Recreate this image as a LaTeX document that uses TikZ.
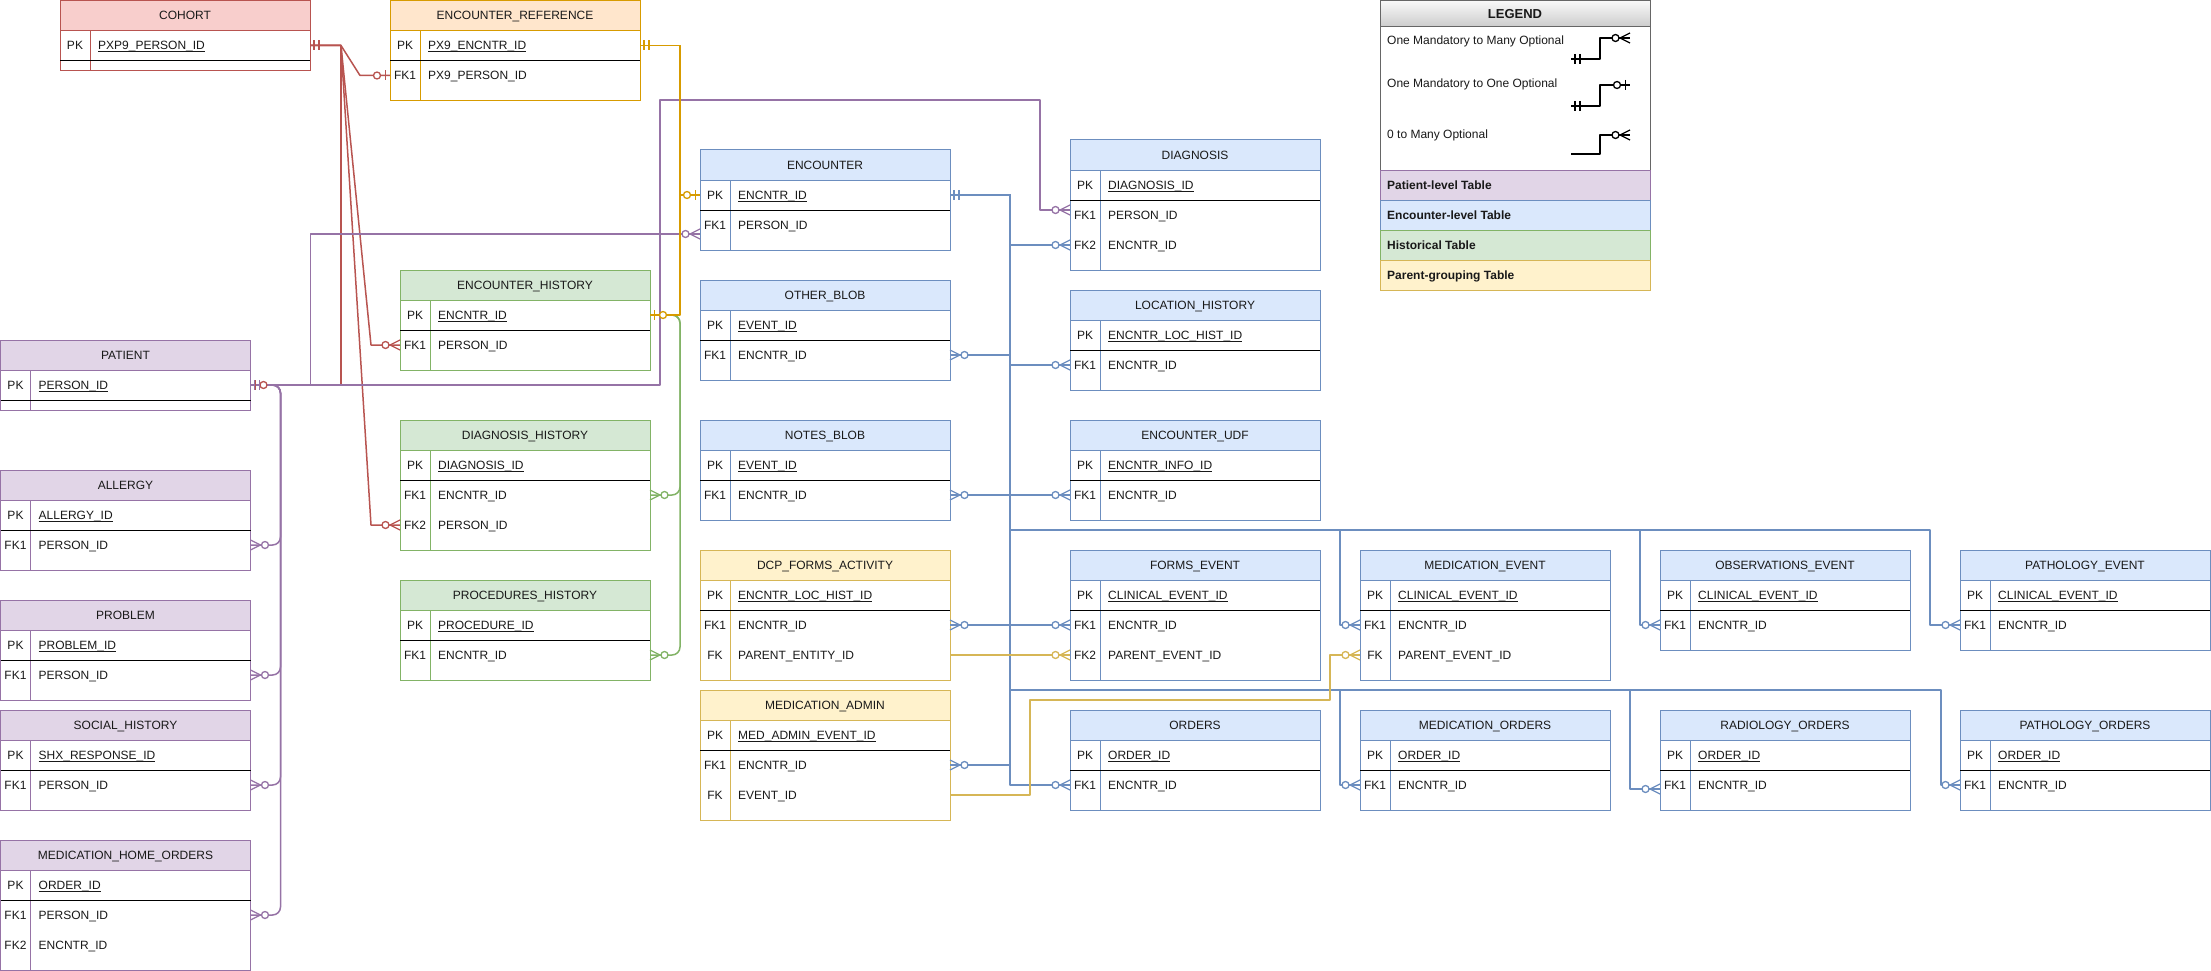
\documentclass[tikz,border=0pt]{standalone}
\usepackage{fontspec}
\setmainfont{Liberation Sans}
\usetikzlibrary{calc}
\definecolor{redS}{HTML}{B85450}\definecolor{redF}{HTML}{F8CECC}
\definecolor{orS}{HTML}{D79B00}\definecolor{orF}{HTML}{FFE6CC}
\definecolor{puS}{HTML}{9673A6}\definecolor{puF}{HTML}{E1D5E7}
\definecolor{blS}{HTML}{6C8EBF}\definecolor{blF}{HTML}{DAE8FC}
\definecolor{grS}{HTML}{82B366}\definecolor{grF}{HTML}{D5E8D4}
\definecolor{yeS}{HTML}{D6B656}\definecolor{yeF}{HTML}{FFF2CC}
\definecolor{lgS}{HTML}{666666}
\tikzset{
  every node/.style={font=\fontsize{12}{14}\selectfont, inner sep=0pt, text=black!90},
  conn/.style={line width=1.5pt, line join=round},
  mk/.style={line width=1.3pt},
  tabline/.style={line width=1pt},
}
\newcommand\pkul[1]{\setbox0\hbox{#1}\rlap{\rule[-2.3pt]{\wd0}{0.8pt}}\box0}
% #1 name, #2 x, #3 y top, #4 number of FK rows, #5 title, #6 colour prefix, #7 PK field, #8 FK rows
\newcommand\ertab[8]{%
  \pgfmathsetmacro\tabh{70+30*#4}%
  \node[minimum width=250pt, minimum height=\tabh pt, anchor=north west] (#1) at (#2,#3) {};
  \fill[white] (#2,#3) rectangle ++(250,\tabh);
  \fill[#6F] (#2,#3) rectangle ++(250,30);
  \draw[#6S, tabline] (#2,#3) rectangle ++(250,\tabh);
  \draw[#6S, tabline] (#2,#3+30) -- ++(250,0) (#2+30,#3+30) -- (#2+30,#3+\tabh);
  \draw[black, tabline] (#2,#3+60) -- ++(250,0);
  \node[anchor=base] at (#2+125,#3+19.5) {#5};
  \node[anchor=base] at (#2+15,#3+49.5) {PK};
  \node[anchor=base west] at (#2+38,#3+49.5) {\pkul{#7}};
  \ifnum#4>0
  \foreach \k/\f [count=\i] in {#8} {
    \node[anchor=base] at (#2+15,#3+49.5+30*\i) {\k};
    \node[anchor=base west] at (#2+38,#3+49.5+30*\i) {\f};
  }\fi
  \foreach \i in {0,...,#4} {
    \coordinate (#1-L\i) at (#2,#3+45+30*\i);
    \coordinate (#1-R\i) at (#2+250,#3+45+30*\i);
  }
}
% markers: #1 edge point, #2 direction (+1 marker to the right), #3 colour
\newcommand\mkmany[3]{\begin{scope}[shift={(#1)},xscale=#2]
  \draw[#3,mk] (0,-5) -- (10,0) -- (0,5);
  \draw[#3,mk,fill=white] (14.5,0) circle[radius=3.5pt];
\end{scope}}
\newcommand\mkone[3]{\begin{scope}[shift={(#1)},xscale=#2]
  \draw[#3,mk] (4,-5) -- (4,5) (9,-5) -- (9,5);
\end{scope}}
\newcommand\mkzone[3]{\begin{scope}[shift={(#1)},xscale=#2]
  \draw[#3,mk] (4.5,-5) -- (4.5,5);
  \draw[#3,mk,fill=white] (13,0) circle[radius=3.5pt];
\end{scope}}
\begin{document}
\begin{tikzpicture}[x=1pt,y=-1pt]
\useasboundingbox (0,0) rectangle (2211,971);

% ---------- tables ----------
\ertab{cohort}{60}{0.5}{0}{COHORT}{red}{PXP9\_PERSON\_ID}{}
\ertab{encref}{390}{0.5}{1}{ENCOUNTER\_REFERENCE}{or}{PX9\_ENCNTR\_ID}{FK1/PX9\_PERSON\_ID}
\ertab{patient}{0.5}{340}{0}{PATIENT}{pu}{PERSON\_ID}{}
\ertab{allergy}{0.5}{470}{1}{ALLERGY}{pu}{ALLERGY\_ID}{FK1/PERSON\_ID}
\ertab{problem}{0.5}{600}{1}{PROBLEM}{pu}{PROBLEM\_ID}{FK1/PERSON\_ID}
\ertab{social}{0.5}{710}{1}{SOCIAL\_HISTORY}{pu}{SHX\_RESPONSE\_ID}{FK1/PERSON\_ID}
\ertab{mho}{0.5}{840}{2}{MEDICATION\_HOME\_ORDERS}{pu}{ORDER\_ID}{FK1/PERSON\_ID,FK2/ENCNTR\_ID}
\ertab{enchist}{400}{270}{1}{ENCOUNTER\_HISTORY}{gr}{ENCNTR\_ID}{FK1/PERSON\_ID}
\ertab{diaghist}{400}{420}{2}{DIAGNOSIS\_HISTORY}{gr}{DIAGNOSIS\_ID}{FK1/ENCNTR\_ID,FK2/PERSON\_ID}
\ertab{prochist}{400}{580}{1}{PROCEDURES\_HISTORY}{gr}{PROCEDURE\_ID}{FK1/ENCNTR\_ID}
\ertab{encounter}{700}{150}{1}{ENCOUNTER}{bl}{ENCNTR\_ID}{FK1/PERSON\_ID}
\ertab{otherblob}{700}{280}{1}{OTHER\_BLOB}{bl}{EVENT\_ID}{FK1/ENCNTR\_ID}
\ertab{notesblob}{700}{420}{1}{NOTES\_BLOB}{bl}{EVENT\_ID}{FK1/ENCNTR\_ID}
\ertab{dcp}{700}{550}{2}{DCP\_FORMS\_ACTIVITY}{ye}{ENCNTR\_LOC\_HIST\_ID}{FK1/ENCNTR\_ID,FK/PARENT\_ENTITY\_ID}
\ertab{medadmin}{700}{690}{2}{MEDICATION\_ADMIN}{ye}{MED\_ADMIN\_EVENT\_ID}{FK1/ENCNTR\_ID,FK/EVENT\_ID}
\ertab{diagnosis}{1070}{140}{2}{DIAGNOSIS}{bl}{DIAGNOSIS\_ID}{FK1/PERSON\_ID,FK2/ENCNTR\_ID}
\ertab{lochist}{1070}{290}{1}{LOCATION\_HISTORY}{bl}{ENCNTR\_LOC\_HIST\_ID}{FK1/ENCNTR\_ID}
\ertab{encudf}{1070}{420}{1}{ENCOUNTER\_UDF}{bl}{ENCNTR\_INFO\_ID}{FK1/ENCNTR\_ID}
\ertab{formsev}{1070}{550}{2}{FORMS\_EVENT}{bl}{CLINICAL\_EVENT\_ID}{FK1/ENCNTR\_ID,FK2/PARENT\_EVENT\_ID}
\ertab{orders}{1070}{710}{1}{ORDERS}{bl}{ORDER\_ID}{FK1/ENCNTR\_ID}
\ertab{medev}{1360}{550}{2}{MEDICATION\_EVENT}{bl}{CLINICAL\_EVENT\_ID}{FK1/ENCNTR\_ID,FK/PARENT\_EVENT\_ID}
\ertab{obsev}{1660}{550}{1}{OBSERVATIONS\_EVENT}{bl}{CLINICAL\_EVENT\_ID}{FK1/ENCNTR\_ID}
\ertab{pathev}{1960}{550}{1}{PATHOLOGY\_EVENT}{bl}{CLINICAL\_EVENT\_ID}{FK1/ENCNTR\_ID}
\ertab{medord}{1360}{710}{1}{MEDICATION\_ORDERS}{bl}{ORDER\_ID}{FK1/ENCNTR\_ID}
\ertab{radord}{1660}{710}{1}{RADIOLOGY\_ORDERS}{bl}{ORDER\_ID}{FK1/ENCNTR\_ID}
\ertab{pathord}{1960}{710}{1}{PATHOLOGY\_ORDERS}{bl}{ORDER\_ID}{FK1/ENCNTR\_ID}

\coordinate (encounter-in) at ($(encounter-L1)+(0,9)$);
\coordinate (diagnosis-in) at ($(diagnosis-L1)+(0,-5)$);
\coordinate (radord-in) at ($(radord-L1)+(0,4)$);

% ---------- legend ----------
\node[minimum width=270pt, minimum height=290pt, anchor=north west] (legend) at (1380,0.5) {};
\shade[top color=gray!5, bottom color=gray!40] (1380,0.5) rectangle (1650,27);
\fill[white] (1380,27) rectangle (1650,170);
\draw[lgS, tabline] (1380,0.5) rectangle (1650,170) (1380,27) -- (1650,27);
\node[anchor=base, font=\fontsize{13}{15}\selectfont\bfseries] (lgtitle) at (1515,18.5) {LEGEND};
\node[anchor=base west] (lgt1) at (1387,44.5) {One Mandatory to Many Optional};
\node[anchor=base west] (lgt2) at (1387,88) {One Mandatory to One Optional};
\node[anchor=base west] (lgt3) at (1387,138.5) {0 to Many Optional};
\filldraw[fill=puF, draw=puS, tabline] (1380,170) rectangle (1650,200);
\filldraw[fill=blF, draw=blS, tabline] (1380,200) rectangle (1650,230);
\filldraw[fill=grF, draw=grS, tabline] (1380,230) rectangle (1650,260);
\filldraw[fill=yeF, draw=yeS, tabline] (1380,260) rectangle (1650,290);
\node[anchor=base west, font=\fontsize{12}{14}\selectfont\bfseries] (lgc1) at (1387,189.5) {Patient-level Table};
\node[anchor=base west, font=\fontsize{12}{14}\selectfont\bfseries] (lgc2) at (1387,219.5) {Encounter-level Table};
\node[anchor=base west, font=\fontsize{12}{14}\selectfont\bfseries] (lgc3) at (1387,249.5) {Historical Table};
\node[anchor=base west, font=\fontsize{12}{14}\selectfont\bfseries] (lgc4) at (1387,279.5) {Parent-grouping Table};
\coordinate (lg1a) at (1571,59);  \coordinate (lg1b) at (1630,38);
\coordinate (lg2a) at (1571,106); \coordinate (lg2b) at (1630,85);
\coordinate (lg3a) at (1571,154); \coordinate (lg3b) at (1630,135);
\draw[conn,black] (lg1a) -- ($(lg1a)+(29,0)$) |- (lg1b);
\draw[conn,black] (lg2a) -- ($(lg2a)+(29,0)$) |- (lg2b);
\draw[conn,black] (lg3a) -- ($(lg3a)+(29,0)$) |- (lg3b);
\mkone{lg1a}{1}{black}\mkmany{lg1b}{-1}{black}
\mkone{lg2a}{1}{black}\mkzone{lg2b}{-1}{black}
\mkmany{lg3b}{-1}{black}

% ---------- connectors ----------
% red (cohort)
\draw[conn,redS] (cohort-R0) -- ($(cohort-R0)+(31,0)$) -- ($(encref-L1)+(-30,0)$) -- (encref-L1);
\draw[conn,redS] (cohort-R0) -- ($(cohort-R0)+(31,0)$) -- ($(enchist-L1)+(-29,0)$) -- (enchist-L1);
\draw[conn,redS] (cohort-R0) -- ($(cohort-R0)+(31,0)$) -- ($(diaghist-L2)+(-29,0)$) -- (diaghist-L2);
\draw[conn,redS] (cohort-R0) -- ($(cohort-R0)+(31,0)$) |- (patient-R0);
% purple (patient)
\draw[conn,puS] (patient-R0) -- ++(60,0) |- (encounter-in);
\draw[conn,puS] (patient-R0) -- (660,385) |- (1040,100) |- (diagnosis-in);
\draw[conn,puS,rounded corners=8pt] (patient-R0) -| ($(allergy-R1)+(30,0)$) -- (allergy-R1);
\draw[conn,puS,rounded corners=8pt] (patient-R0) -| ($(problem-R1)+(30,0)$) -- (problem-R1);
\draw[conn,puS,rounded corners=8pt] (patient-R0) -| ($(social-R1)+(30,0)$) -- (social-R1);
\draw[conn,puS,rounded corners=8pt] (patient-R0) -| ($(mho-R1)+(30,0)$) -- (mho-R1);
% green (encounter history)
\draw[conn,grS,rounded corners=8pt] (enchist-R0) -| ($(diaghist-R1)+(30,0)$) -- (diaghist-R1);
\draw[conn,grS,rounded corners=8pt] (enchist-R0) -| ($(prochist-R1)+(30,0)$) -- (prochist-R1);
% orange (encounter reference)
\draw[conn,orS] (encref-R0) -| ($(encounter-L0)+(-20,0)$) -- (encounter-L0);
\draw[conn,orS] (encref-R0) -| ($(enchist-R0)+(30,0)$) -- (enchist-R0);
% blue (encounter)
\draw[conn,blS] (encounter-R0) -| ($(diagnosis-L2)+(-60,0)$) -- (diagnosis-L2);
\draw[conn,blS] (encounter-R0) -| ($(otherblob-R1)+(60,0)$) -- (otherblob-R1);
\draw[conn,blS] (encounter-R0) -| ($(lochist-L1)+(-60,0)$) -- (lochist-L1);
\draw[conn,blS] (encounter-R0) -| ($(notesblob-R1)+(60,0)$) -- (notesblob-R1);
\draw[conn,blS] (encounter-R0) -| ($(encudf-L1)+(-60,0)$) -- (encudf-L1);
\draw[conn,blS] (encounter-R0) -| ($(dcp-R1)+(60,0)$) -- (dcp-R1);
\draw[conn,blS] (encounter-R0) -| ($(formsev-L1)+(-60,0)$) -- (formsev-L1);
\draw[conn,blS] (encounter-R0) -| ($(medadmin-R1)+(60,0)$) -- (medadmin-R1);
\draw[conn,blS] (encounter-R0) -| ($(orders-L1)+(-60,0)$) -- (orders-L1);
\draw[conn,blS] (encounter-R0) -| (1010,530) -| ($(medev-L1)+(-20,0)$) -- (medev-L1);
\draw[conn,blS] (encounter-R0) -| (1010,530) -| ($(obsev-L1)+(-20,0)$) -- (obsev-L1);
\draw[conn,blS] (encounter-R0) -| (1010,530) -| ($(pathev-L1)+(-30,0)$) -- (pathev-L1);
\draw[conn,blS] (encounter-R0) -| (1010,690) -| ($(medord-L1)+(-20,0)$) -- (medord-L1);
\draw[conn,blS] (encounter-R0) -| (1010,690) -| ($(radord-in)+(-30,0)$) -- (radord-in);
\draw[conn,blS] (encounter-R0) -| (1010,690) -| ($(pathord-L1)+(-19,0)$) -- (pathord-L1);
% yellow (parent grouping)
\draw[conn,yeS] (dcp-R2) -- (formsev-L2);
\draw[conn,yeS] (medadmin-R2) -| (1030,700) -| ($(medev-L2)+(-30,0)$) -- (medev-L2);

% ---------- markers ----------
\mkone{cohort-R0}{1}{redS}
\mkzone{encref-L1}{-1}{redS}
\mkmany{enchist-L1}{-1}{redS}
\mkmany{diaghist-L2}{-1}{redS}
\mkzone{patient-R0}{1}{redS}
\mkone{patient-R0}{1}{puS}
\mkmany{encounter-in}{-1}{puS}
\mkmany{diagnosis-in}{-1}{puS}
\mkmany{allergy-R1}{1}{puS}
\mkmany{problem-R1}{1}{puS}
\mkmany{social-R1}{1}{puS}
\mkmany{mho-R1}{1}{puS}
\mkmany{diaghist-R1}{1}{grS}
\mkmany{prochist-R1}{1}{grS}
\mkone{encref-R0}{1}{orS}
\mkzone{encounter-L0}{-1}{orS}
\mkzone{enchist-R0}{1}{orS}
\mkone{encounter-R0}{1}{blS}
\mkmany{diagnosis-L2}{-1}{blS}
\mkmany{otherblob-R1}{1}{blS}
\mkmany{lochist-L1}{-1}{blS}
\mkmany{notesblob-R1}{1}{blS}
\mkmany{encudf-L1}{-1}{blS}
\mkmany{dcp-R1}{1}{blS}
\mkmany{formsev-L1}{-1}{blS}
\mkmany{medadmin-R1}{1}{blS}
\mkmany{orders-L1}{-1}{blS}
\mkmany{medev-L1}{-1}{blS}
\mkmany{obsev-L1}{-1}{blS}
\mkmany{pathev-L1}{-1}{blS}
\mkmany{medord-L1}{-1}{blS}
\mkmany{radord-in}{-1}{blS}
\mkmany{pathord-L1}{-1}{blS}
\mkmany{formsev-L2}{-1}{yeS}
\mkmany{medev-L2}{-1}{yeS}
\end{tikzpicture}
\end{document}
